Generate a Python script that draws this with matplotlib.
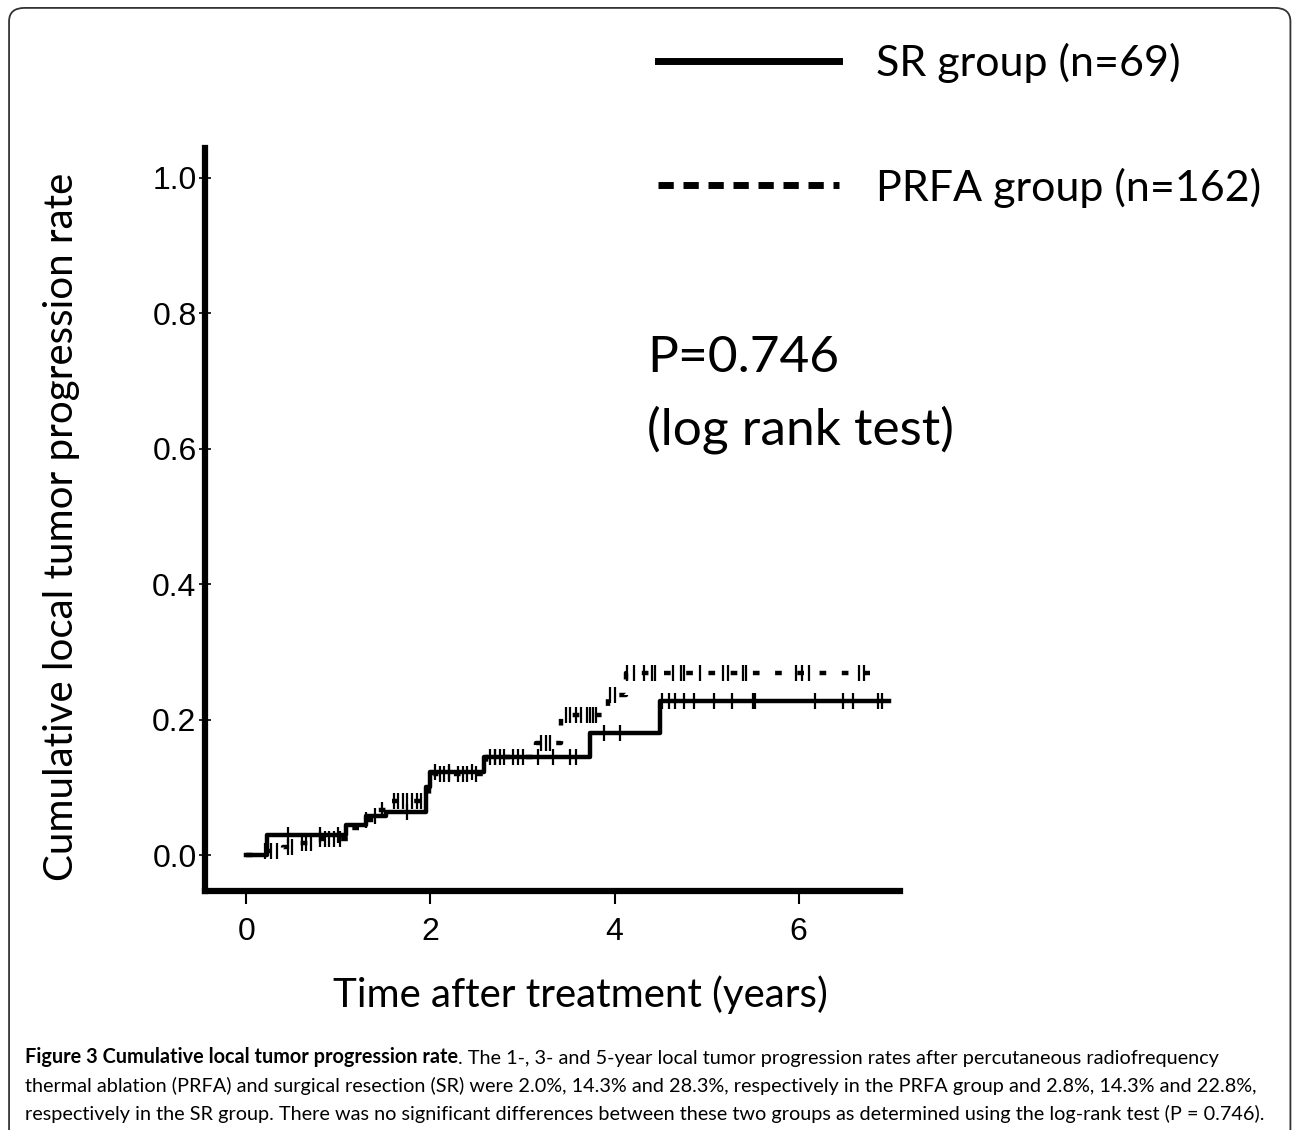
import numpy as np
import matplotlib
matplotlib.use("Agg")
import matplotlib.pyplot as plt
from matplotlib.lines import Line2D
from matplotlib.patches import FancyBboxPatch

# Kaplan-Meier style step data
sr_time = [0.0, 0.22, 1.08, 1.30, 1.52, 1.95, 2.00, 2.58, 3.73, 4.49, 6.98]
sr_rate = [0.0, 0.029, 0.044, 0.058, 0.063, 0.100, 0.122, 0.145, 0.180, 0.228, 0.228]
sr_censor = [0.45, 0.8, 1.0, 1.4, 1.75, 2.05, 2.2, 2.45, 2.7, 3.17, 3.33, 3.52, 3.58,
             3.88, 4.06, 4.52, 4.59, 4.66, 4.75, 4.86, 5.08, 5.28, 5.50, 5.53, 6.18,
             6.48, 6.59, 6.86, 6.91]

prfa_time = [0.0, 0.15, 0.40, 0.55, 0.75, 1.10, 1.25, 1.40, 1.55, 1.98, 2.03, 2.60,
             3.15, 3.42, 3.93, 4.12, 6.78]
prfa_rate = [0.0, 0.006, 0.012, 0.018, 0.024, 0.040, 0.052, 0.066, 0.080, 0.100, 0.120,
             0.145, 0.165, 0.207, 0.236, 0.269, 0.269]
prfa_censor = [0.2, 0.27, 0.33, 0.45, 0.5, 0.6, 0.65, 0.7, 0.8, 0.85, 0.9, 0.95, 1.02,
               1.3, 1.47, 1.6, 1.65, 1.7, 1.75, 1.8, 1.85, 1.9, 2.1, 2.15, 2.2, 2.3,
               2.35, 2.4, 2.5, 2.65, 2.7, 2.75, 2.8, 2.9, 2.95, 3.0, 3.2, 3.25, 3.3,
               3.47, 3.52, 3.58, 3.63, 3.7, 3.73, 3.77, 3.8, 3.95, 4.0, 4.14, 4.21,
               4.32, 4.41, 4.44, 4.63, 4.72, 4.75, 4.93, 5.18, 5.23, 5.40, 5.43, 5.97,
               6.04, 6.11, 6.65, 6.71]

x_ticks = [0, 2, 4, 6]
y_ticks = [0.0, 0.2, 0.4, 0.6, 0.8, 1.0]
legend_labels = ["SR group (n=69)", "PRFA group (n=162)"]

caption_bold = "Figure 3 Cumulative local tumor progression rate"
caption_rest = (". The 1-, 3- and 5-year local tumor progression rates after "
                "percutaneous radiofrequency")
caption_line2 = ("thermal ablation (PRFA) and surgical resection (SR) were 2.0%, 14.3% and "
                 "28.3%, respectively in the PRFA group and 2.8%, 14.3% and 22.8%,")
caption_line3 = ("respectively in the SR group. There was no significant differences between "
                 "these two groups as determined using the log-rank test (P = 0.746).")

label_font = "Lato"
tick_font = "Liberation Sans"
cap_font = "Lato"
cap_size = 14.3


def censor_y(times, rates, censor):
    idx = np.searchsorted(times, censor, side="right") - 1
    return np.asarray(rates)[idx]


fig = plt.figure(figsize=(12.93, 11.30), dpi=100)
ax = fig.add_axes([0.1585, 0.2115, 0.5375, 0.6575])

ax.step(sr_time, sr_rate, where="post", color="black", lw=3.2)
ax.plot(sr_censor, censor_y(sr_time, sr_rate, sr_censor), ls="none", marker="|",
        ms=11, mew=1.6, color="black")

ax.step(prfa_time, prfa_rate, where="post", color="black", lw=3.2, ls=(0, (1.5, 3.5)))
ax.plot(prfa_censor, censor_y(prfa_time, prfa_rate, prfa_censor), ls="none",
        marker="|", ms=11, mew=1.6, color="black")

ax.set_xlim(-0.45, 7.1)
ax.set_ylim(-0.053, 1.044)
ax.set_xticks(x_ticks)
ax.set_yticks(y_ticks)
ax.set_xticklabels([str(t) for t in x_ticks], fontsize=23, family=tick_font)
ax.set_yticklabels(["%.1f" % t for t in y_ticks], fontsize=23, family=tick_font)
ax.tick_params(axis="y", direction="inout", length=8, width=1.2, pad=2)
ax.tick_params(axis="x", direction="out", length=9, width=1.5, pad=10)
for side in ["top", "right"]:
    ax.spines[side].set_visible(False)
for side in ["left", "bottom"]:
    ax.spines[side].set_linewidth(4.5)

ax.set_ylabel("Cumulative local tumor progression rate", fontsize=29,
              family=label_font, labelpad=52, y=0.49)
ax.set_xlabel("Time after treatment (years)", fontsize=29, family=label_font,
              labelpad=20, x=0.54)

ax.text(4.35, 0.713, "P=0.746", fontsize=37, family=label_font)
ax.text(4.35, 0.607, "(log rank test)", fontsize=37, family=label_font)

handles = [Line2D([], [], color="black", lw=5),
           Line2D([], [], color="black", lw=5, ls=(0, (2.2, 1.4)))]
fig.legend(handles, legend_labels, loc="upper left", bbox_to_anchor=(0.479, 0.996),
           frameon=False, prop={"family": label_font, "size": 31},
           handlelength=4.2, handletextpad=0.85, labelspacing=1.95)

# caption
t1 = fig.text(0.019, 0.0555, caption_bold, fontsize=cap_size, fontweight="bold",
              family=cap_font, va="bottom")
fig.canvas.draw()
ax.annotate(caption_rest, xy=(1, 0), xycoords=t1, va="bottom", ha="left",
            fontsize=cap_size, family=cap_font, annotation_clip=False)
fig.text(0.019, 0.031, caption_line2, fontsize=cap_size, family=cap_font, va="bottom")
fig.text(0.019, 0.0065, caption_line3, fontsize=cap_size, family=cap_font, va="bottom")

frame = FancyBboxPatch((0.007, -0.05), 0.991, 1.043, transform=fig.transFigure,
                       boxstyle="round,pad=0,rounding_size=0.012", fill=False,
                       edgecolor="#333333", lw=1.3)
fig.add_artist(frame)

fig.savefig("out.png", dpi=100)
